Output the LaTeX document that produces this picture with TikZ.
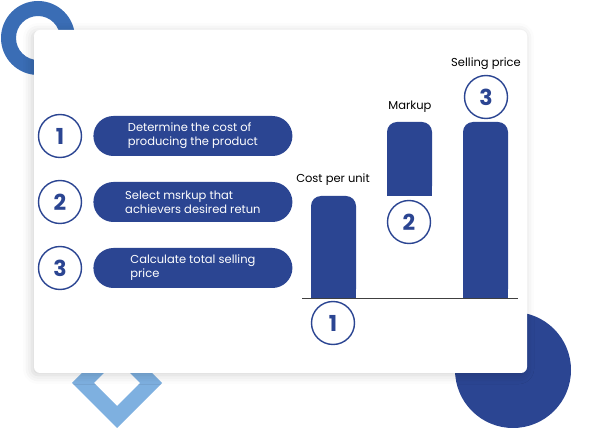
\documentclass[tikz,border=0pt]{standalone}
\usepackage{fontspec}
\setmainfont{Poppins}
\usetikzlibrary{positioning,shadows.blur}
\definecolor{navy}{HTML}{2B4592}
\definecolor{ringblue}{HTML}{3A6DB5}
\definecolor{skyblue}{HTML}{7EB0E0}
\begin{document}
\begin{tikzpicture}[x=1pt,y=-1pt,
    numcirc/.style = {circle, draw=navy, line width=1.4pt, fill=white, minimum size=43pt,
                      inner sep=0pt, text=navy, font=\fontsize{22}{22}\selectfont\bfseries},
    pill/.style    = {rectangle, rounded corners=20pt, fill=navy, minimum width=199pt,
                      minimum height=40pt, text=white, align=left,
                      font=\fontsize{11.5}{14}\selectfont},
    barlabel/.style = {font=\fontsize{11.5}{13}\selectfont, text=black}]
\useasboundingbox (0,0) rectangle (595,430);
% shapes behind the card
\fill[ringblue, even odd rule] (38,38) circle (37pt) (38,38) circle (22pt);
\fill[skyblue, even odd rule] (117,338) -- (162,383) -- (117,428) -- (72,383) -- cycle
                              (117,360) -- (140,383) -- (117,406) -- (94,383) -- cycle;
\fill[navy] (513,370) circle (58pt);
% card
\fill[white, rounded corners=6pt,
      blur shadow={shadow xshift=-2pt, shadow yshift=-2pt, shadow blur radius=9pt, shadow opacity=18}]
      (34,30) rectangle (527,373);
% steps
\foreach \n/\y/\txt in {1/136/{Determine the cost of\\producing the product},
                        2/202/{Select msrkup that\\achievers desired retun},
                        3/268/{Calculate total selling\\price}}{
  \node[numcirc] (s\n) at (60,\y) {\n};
  \node[pill, right=11pt of s\n] (p\n) {\txt};
}
% bars
\fill[navy, rounded corners=10pt] (311,196) rectangle (356,299);
\fill[navy] (311,250) rectangle (356,299);
\fill[navy, rounded corners=10pt] (387,122) rectangle (432,196);
\fill[navy] (387,160) rectangle (432,196);
\fill[navy, rounded corners=10pt] (463,122) rectangle (508,299);
\fill[navy] (463,250) rectangle (508,299);
\coordinate (axl) at (302,299);
\coordinate (axr) at (518,299);
\draw[black!75, line width=1pt] (axl) -- (axr);
\node[barlabel] (cost) at (333,180) {Cost per unit};
\node[barlabel] (markup) at (410,107) {Markup};
\node[barlabel] (selling) at (486,64) {Selling price};
\node[numcirc] (b1) at (333,323) {1};
\node[numcirc] (b2) at (409,222) {2};
\node[numcirc] (b3) at (486,97) {3};
\end{tikzpicture}
\end{document}
